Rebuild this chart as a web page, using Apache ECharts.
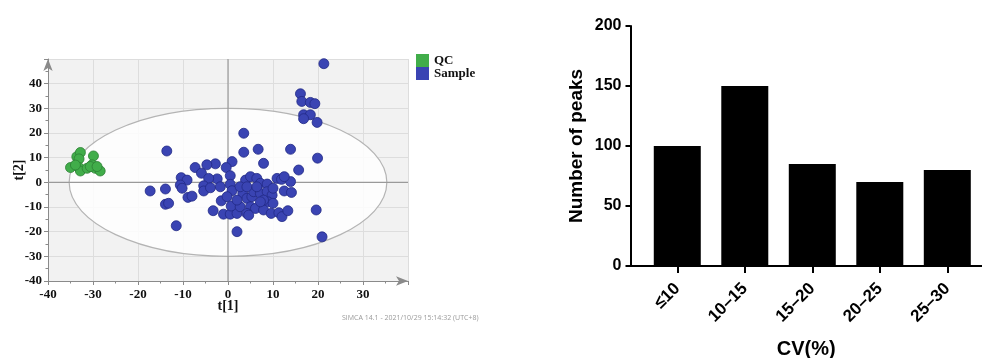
<!DOCTYPE html>
<html>
<head>
<meta charset="utf-8">
<script src="https://cdn.jsdelivr.net/npm/echarts@6/dist/echarts.min.js"></script>
<style>
  html, body { margin: 0; padding: 0; background: #fff; }
  #chart { width: 982px; height: 358px; }
</style>
</head>
<body>
<div id="chart"></div>
<script>
// PCA score plot (t[1] vs t[2])
const qcPoints = [
  [-35.0, 6.0], [-33.6, 10.4], [-32.8, 12.1], [-33.1, 9.5], [-33.1, 6.0],
  [-32.8, 4.6], [-31.3, 5.7], [-29.9, 10.7], [-30.2, 7.1], [-29.5, 5.7],
  [-28.4, 4.6], [-30.6, 6.4], [-33.9, 7.0], [-29.1, 6.4]
]
const samplePoints = [
  [21.3, 48.1], [16.1, 35.9], [16.4, 32.8], [18.3, 32.4], [19.3, 31.9],
  [16.8, 27.4], [18.3, 27.4], [16.8, 25.8], [19.8, 24.3], [3.5, 19.9],
  [-13.6, 12.7], [3.5, 12.2], [6.7, 13.4], [13.9, 13.4], [19.9, 9.8],
  [7.9, 7.7], [0.9, 8.4], [-0.4, 6.0], [-2.8, 7.5], [-4.7, 7.1],
  [-7.3, 6.0], [-5.9, 3.7], [15.7, 5.0], [0.5, 2.7], [-2.4, 1.4],
  [-4.3, 1.6], [-10.4, 1.9], [-9.1, 0.9], [-10.6, -1.1], [-10.2, -2.4],
  [-5.4, -1.4], [-5.4, -3.5], [-3.9, -2.2], [-1.7, -1.8], [0.5, -0.8],
  [0.9, -3.4], [3.9, 0.9], [5.0, 2.3], [6.4, 1.6], [7.2, -0.4],
  [8.7, -0.7], [10.9, 1.6], [11.9, 1.2], [13.9, 0.3], [12.5, -3.5],
  [14.1, -4.1], [-17.3, -3.5], [-13.9, -2.7], [-13.9, -8.9], [-13.2, -8.5],
  [-8.9, -6.1], [-8.0, -5.6], [-1.5, -7.5], [-3.3, -11.5], [-11.5, -17.6],
  [-1.0, -12.9], [0.5, -12.9], [2.0, -12.6], [0.7, -9.6], [2.7, -9.9],
  [3.3, -4.5], [4.2, -6.5], [5.3, -5.8], [5.7, -3.8], [7.2, -4.5],
  [8.7, -3.8], [9.8, -5.2], [8.9, -7.9], [10.0, -8.5], [5.0, -9.9],
  [6.1, -10.6], [4.2, -12.6], [4.6, -13.3], [7.9, -11.2], [9.6, -12.6],
  [11.3, -12.3], [12.0, -13.9], [13.3, -11.5], [2.0, -20.0], [19.6, -11.2],
  [20.9, -22.1], [2.7, -1.8], [4.2, -1.8], [2.0, -7.2], [7.9, -7.2],
  [12.5, 2.3], [6.4, -1.8], [10.0, -2.4], [7.2, -7.9], [-0.2, -5.8]
]
// Hotelling T2 ellipse (semi-axes in score units)
const ellipseCenter = [0, 0]
const ellipseRadii = [35.3, 30]
const scoreX = { min: -40, max: 40, step: 10 }
const scoreY = { min: -40, max: 50, step: 10 }

// CV distribution
const cvCategories = ['≤10', '10–15', '15–20', '20–25', '25–30']
const peakCounts = [100, 150, 85, 70, 80]
const cvIndex = cvCategories.map((_, i) => i)

const serif = 'Liberation Serif'
const sans = 'Liberation Sans'

const chart = echarts.init(document.getElementById('chart'))

chart.setOption({
    animation: false,
    backgroundColor: '#fff',
    title: {
        text: 'SIMCA 14.1 - 2021/10/29 15:14:32 (UTC+8)',
        left: 342,
        top: 314,
        padding: 0,
        textStyle: { fontSize: 7, color: '#9a9a9a', fontWeight: 'normal', fontFamily: 'Open Sans' },
    },
    legend: {
        data: ['QC', 'Sample'],
        orient: 'vertical',
        left: 416,
        top: 54,
        padding: 0,
        itemGap: 0,
        itemWidth: 13,
        itemHeight: 13,
        icon: 'rect',
        itemStyle: { borderWidth: 0 },
        textStyle: { fontFamily: serif, fontWeight: 'bold', fontSize: 13, color: '#111' },
    },
    grid: [
        { left: 48, top: 59, width: 360, height: 222, show: true, backgroundColor: '#f2f2f2', borderWidth: 0, outerBoundsMode: 'none' },
        { left: 630.5, top: 26, right: 0, height: 240, outerBoundsMode: 'none' },
    ],
    xAxis: [
        {
            type: 'value', gridIndex: 0,
            min: scoreX.min, max: scoreX.max, interval: scoreX.step,
            axisLine: { show: true, onZero: false, symbol: ['none', 'arrow'], symbolSize: [7, 12], lineStyle: { color: '#8a8a8a' } },
            axisTick: { show: true, length: 4, lineStyle: { color: '#8a8a8a' } },
            minorTick: { show: true, splitNumber: 2, length: 2.5, lineStyle: { color: '#8a8a8a' } },
            splitLine: { show: true, lineStyle: { color: '#dddddd' } },
            axisLabel: { showMaxLabel: false, margin: 7, fontFamily: serif, fontWeight: 'bold', fontSize: 13, color: '#111' },
            name: 't[1]', nameLocation: 'middle', nameGap: 18, nameMoveOverlap: false,
            nameTextStyle: { fontFamily: serif, fontWeight: 'bold', fontSize: 14, color: '#111' },
        },
        {
            // bars sit on a value scale so the first bar can keep its gap from the y axis
            type: 'value', gridIndex: 1, min: -0.693, max: 4.514,
            axisLine: { show: true, onZero: false, lineStyle: { color: '#000', width: 2 } },
            axisTick: { show: true, customValues: cvIndex, length: 7, lineStyle: { color: '#000', width: 2 } },
            axisLabel: {
                customValues: cvIndex, rotate: 45, margin: 20,
                formatter: (v) => cvCategories[Math.round(v)],
                fontFamily: sans, fontWeight: 'bold', fontSize: 17, color: '#000',
            },
            splitLine: { show: false },
            name: 'CV(%)', nameLocation: 'middle', nameGap: 73, nameMoveOverlap: false,
            nameTextStyle: { fontFamily: sans, fontWeight: 'bold', fontSize: 20, color: '#000' },
        },
    ],
    yAxis: [
        {
            type: 'value', gridIndex: 0,
            min: scoreY.min, max: scoreY.max, interval: scoreY.step,
            axisLine: { show: true, onZero: false, symbol: ['none', 'arrow'], symbolSize: [7, 12], lineStyle: { color: '#8a8a8a' } },
            axisTick: { show: true, length: 4, lineStyle: { color: '#8a8a8a' } },
            minorTick: { show: true, splitNumber: 2, length: 2.5, lineStyle: { color: '#8a8a8a' } },
            splitLine: { show: true, lineStyle: { color: '#dddddd' } },
            axisLabel: { showMaxLabel: false, margin: 6, fontFamily: serif, fontWeight: 'bold', fontSize: 13, color: '#111' },
            name: 't[2]', nameLocation: 'middle', nameGap: 22, nameMoveOverlap: false,
            nameTextStyle: { fontFamily: serif, fontWeight: 'bold', fontSize: 14, color: '#111' },
        },
        {
            type: 'value', gridIndex: 1, min: 0, max: 200, interval: 50,
            axisLine: { show: true, onZero: false, lineStyle: { color: '#000', width: 2 } },
            axisTick: { show: true, length: 5, lineStyle: { color: '#000', width: 2 } },
            splitLine: { show: false },
            axisLabel: { margin: 9, fontFamily: sans, fontWeight: 'bold', fontSize: 16, color: '#000' },
            name: 'Number of peaks', nameLocation: 'middle', nameGap: 44, nameMoveOverlap: false,
            nameTextStyle: { fontFamily: sans, fontWeight: 'bold', fontSize: 19, color: '#000' },
        },
    ],
    series: [
        {
            // confidence ellipse plus the zero lines, drawn through the axis scales
            type: 'custom',
            xAxisIndex: 0, yAxisIndex: 0,
            silent: true,
            data: [ellipseCenter],
            renderItem: (params, api) => {
                const c = api.coord([api.value(0), api.value(1)])
                const r = api.size(ellipseRadii)
                const left = api.coord([scoreX.min, 0])
                const right = api.coord([scoreX.max, 0])
                const top = api.coord([0, scoreY.max])
                const bottom = api.coord([0, scoreY.min])
                return {
                    type: 'group',
                    children: [
                        {
                            type: 'ellipse',
                            shape: { cx: c[0], cy: c[1], rx: r[0], ry: r[1] },
                            style: { fill: 'rgba(255,255,255,0.85)', stroke: '#b4b4b4', lineWidth: 1.2 },
                        },
                        {
                            type: 'line',
                            shape: { x1: left[0], y1: left[1], x2: right[0], y2: right[1] },
                            style: { stroke: '#9a9a9a', lineWidth: 1.2 },
                        },
                        {
                            type: 'line',
                            shape: { x1: top[0], y1: top[1], x2: bottom[0], y2: bottom[1] },
                            style: { stroke: '#9a9a9a', lineWidth: 1.2 },
                        },
                    ],
                }
            },
        },
        {
            name: 'QC', type: 'scatter', xAxisIndex: 0, yAxisIndex: 0,
            data: qcPoints, symbolSize: 10,
            itemStyle: { color: '#41ad4a', borderColor: '#2c7f34', borderWidth: 0.8, opacity: 1 },
        },
        {
            name: 'Sample', type: 'scatter', xAxisIndex: 0, yAxisIndex: 0,
            data: samplePoints, symbolSize: 10,
            itemStyle: { color: '#3a44b3', borderColor: '#222a85', borderWidth: 0.8, opacity: 1 },
        },
        {
            name: 'Peaks', type: 'bar', xAxisIndex: 1, yAxisIndex: 1,
            data: cvIndex.map((i) => [i, peakCounts[i]]), barWidth: 47,
            itemStyle: { color: '#000' },
        },
    ],
})
</script>
</body>
</html>
